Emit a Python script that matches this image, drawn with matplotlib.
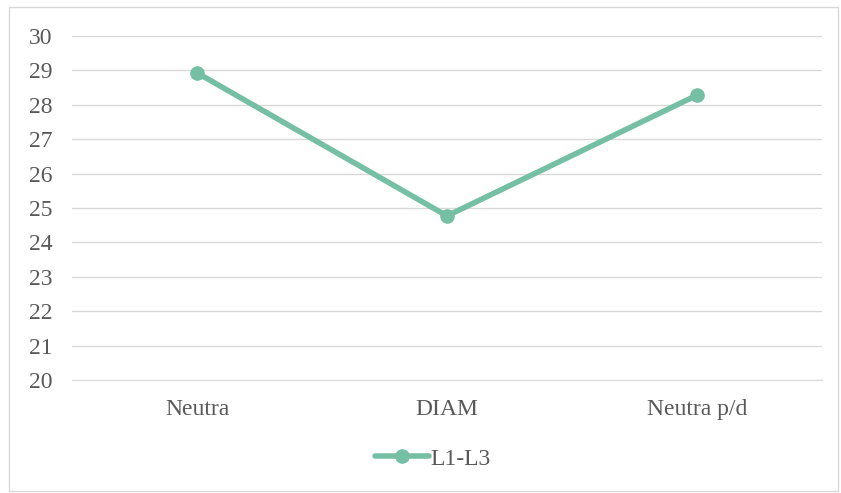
import matplotlib.pyplot as plt
from matplotlib.patches import Rectangle

categories = ["Neutra", "DIAM", "Neutra p/d"]
values = [28.93, 24.77, 28.28]
series_name = "L1-L3"
yticks = list(range(20, 31))

plt.rcParams['font.family'] = ['Liberation Serif', 'DejaVu Serif']

fig = plt.figure(figsize=(8.41, 4.93), dpi=100)
ax = fig.add_axes([72/841, 1 - 380/493, 750/841, 344/493])

line_color = "#75BFA5"
ax.plot(range(len(categories)), values, color=line_color, linewidth=4,
        marker="o", markersize=9.5, label=series_name, solid_capstyle="round")

ax.set_xlim(-0.5, len(categories) - 0.5)
ax.set_ylim(20, 30)
ax.set_yticks(yticks)
ax.set_xticks(range(len(categories)))
ax.set_xticklabels(categories)
ax.grid(axis="y", color="#D9D9D9", linewidth=1)
ax.set_axisbelow(True)
for s in ["top", "right", "left"]:
    ax.spines[s].set_visible(False)
ax.spines["bottom"].set_color("#D9D9D9")
ax.tick_params(axis="both", length=0, labelsize=17, colors="#595959")
ax.tick_params(axis="y", pad=14)
ax.tick_params(axis="x", pad=14)

leg = fig.legend(loc="center", bbox_to_anchor=(433/841, 1 - 459/493), frameon=False,
                 fontsize=17, handlelength=2.3, handletextpad=0.05)
for t in leg.get_texts():
    t.set_color("#595959")

fig.patches.append(Rectangle((9/841, 1 - 491/493), 829/841, 484/493, transform=fig.transFigure,
                             fill=False, edgecolor="#D9D9D9", linewidth=1))

fig.savefig("out.png", dpi=100)
